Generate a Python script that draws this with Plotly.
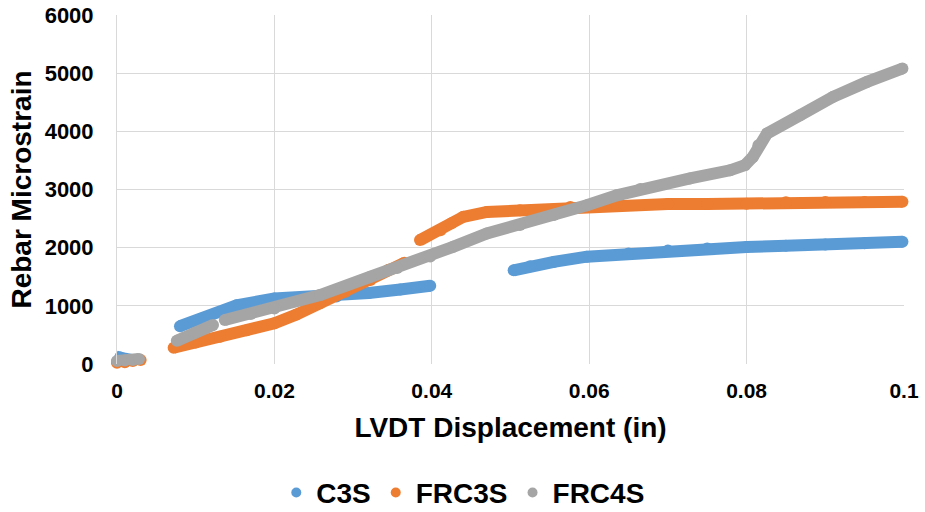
import plotly.graph_objects as go

# LVDT displacement (in) vs rebar microstrain; None separates recorded segments
c3s_x = [0.0, 0.0004, 0.001, 0.0018, None,
         0.008, 0.011, 0.0152, 0.02, 0.024, 0.0279, 0.032, 0.036, 0.0398, None,
         0.0504, 0.0525, 0.0555, 0.0597, 0.065, 0.07, 0.075, 0.08, 0.085, 0.09, 0.095, 0.0998]
c3s_y = [40, 110, 90, 70, None,
         650, 790, 1010, 1125, 1140, 1160, 1220, 1280, 1345, None,
         1610, 1680, 1755, 1845, 1900, 1950, 1985, 2010, 2035, 2055, 2075, 2100]

frc3s_x = [0.0, 0.001, 0.002, 0.003, None,
           0.0072, 0.010, 0.0131, 0.0165, 0.02, 0.0228, 0.0258, 0.029, 0.0322, 0.0345, 0.0365, None,
           0.0385, 0.0411, 0.0425, 0.044, 0.047, 0.0512, 0.0576, 0.0635, 0.07, 0.075, 0.08,
           0.085, 0.09, 0.095, 0.0998]
frc3s_y = [20, 30, 50, 70, None,
           280, 370, 470, 580, 700, 850, 1045, 1240, 1445, 1620, 1740, None,
           2130, 2300, 2420, 2530, 2615, 2645, 2700, 2735, 2750, 2750, 2755,
           2780, 2785, 2785, 2790]

frc4s_x = [0.0, 0.001, 0.002, 0.0028, None,
           0.0076, 0.010, 0.0122, None,
           0.0137, 0.017, 0.02, 0.0258, 0.0322, 0.0356, 0.0398, 0.0427, 0.047, 0.0512, 0.0555,
           0.0597, 0.0635, 0.0665, 0.0728, 0.0779, 0.0798, 0.0808, 0.0815, 0.0826, 0.0868, 0.091,
           0.0953, 0.0998]
frc4s_y = [50, 60, 70, 85, None,
           400, 540, 670, None,
           756, 860, 955, 1185, 1500, 1650, 1850, 2015, 2245, 2390, 2560,
           2730, 2900, 3010, 3190, 3330, 3420, 3560, 3760, 3963, 4278, 4593,
           4850, 5080]

series = [
    ("C3S", c3s_x, c3s_y, "#5B9BD5"),
    ("FRC3S", frc3s_x, frc3s_y, "#ED7D31"),
    ("FRC4S", frc4s_x, frc4s_y, "#A5A5A5"),
]

FONT = "Arial, 'Liberation Sans', sans-serif"
GRID = "#D9D9D9"

fig = go.Figure()

# dense marker bands
for name, xs, ys, color in series:
    fig.add_trace(go.Scatter(
        x=xs, y=ys, mode="lines+markers", name=name,
        line=dict(color=color, width=12),
        marker=dict(color=color, size=12),
        connectgaps=False, cliponaxis=False, showlegend=False,
    ))

# legend entries (marker only)
for name, xs, ys, color in series:
    fig.add_trace(go.Scatter(
        x=[None], y=[None], mode="markers", name=name,
        marker=dict(color=color, size=10), showlegend=True,
    ))

fig.update_layout(
    width=925, height=512,
    margin=dict(l=117, r=21, t=15, b=148, autoexpand=False),
    paper_bgcolor="white", plot_bgcolor="white",
    font=dict(family=FONT, color="black"),
    legend=dict(
        orientation="h", x=0.44, xanchor="center", y=-0.369, yanchor="middle",
        font=dict(size=28, family=FONT, weight="bold", color="black"),
        itemwidth=30, tracegroupgap=0,
    ),
    showlegend=True,
)

fig.update_xaxes(
    range=[0, 0.1], dtick=0.02, tick0=0, automargin=False,
    showgrid=True, gridcolor=GRID, gridwidth=1,
    zeroline=False, showline=False, ticks="",
    tickformat="~g",
    tickfont=dict(size=21, family=FONT, weight="bold"),
    ticklabelstandoff=12,
    title=dict(text="LVDT Displacement (in)",
               font=dict(size=28, family=FONT, weight="bold"), standoff=16),
)
fig.update_yaxes(
    range=[0, 6000], dtick=1000, tick0=0, automargin=False,
    showgrid=True, gridcolor=GRID, gridwidth=1,
    zeroline=False, showline=True, linecolor=GRID, linewidth=1, ticks="",
    tickfont=dict(size=22, family=FONT, weight="bold"),
    ticklabelstandoff=18,
    title=dict(text="Rebar Microstrain",
               font=dict(size=28, family=FONT, weight="bold"), standoff=4),
)

fig.write_html("out.html")
